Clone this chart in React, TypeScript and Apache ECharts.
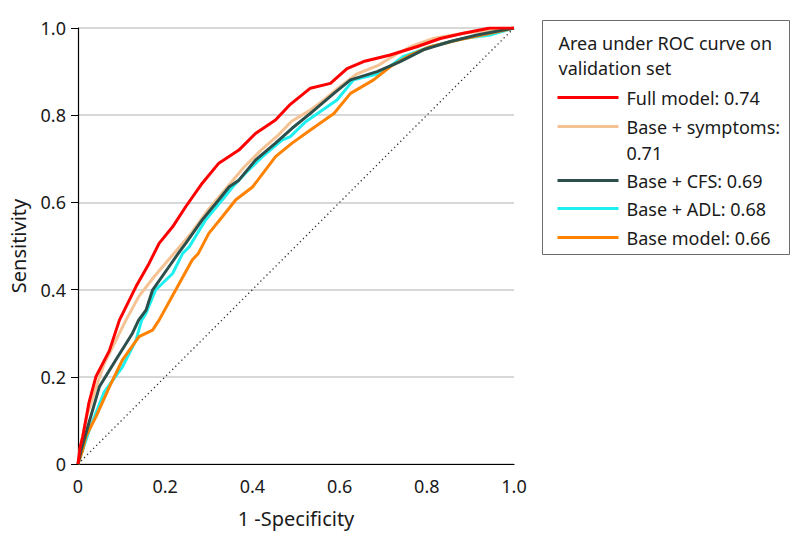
import React, { useEffect, useRef } from "react";
import * as echarts from "echarts";

// ROC curves (x = 1 - specificity, y = sensitivity)
const fprFull = [0, 0.005, 0.011, 0.025, 0.041, 0.072, 0.095, 0.133, 0.163, 0.186, 0.217, 0.247, 0.285, 0.323, 0.369, 0.407, 0.453, 0.487, 0.533, 0.579, 0.617, 0.655, 0.716, 0.777, 0.831, 0.884, 0.945, 1];
const tprFull = [0, 0.04, 0.063, 0.14, 0.2, 0.26, 0.33, 0.407, 0.46, 0.506, 0.544, 0.59, 0.644, 0.69, 0.72, 0.758, 0.789, 0.825, 0.862, 0.873, 0.907, 0.923, 0.938, 0.957, 0.976, 0.988, 1.0, 1];

const fprSymptoms = [0, 0.006, 0.02, 0.042, 0.06, 0.08, 0.11, 0.14, 0.175, 0.22, 0.26, 0.3, 0.343, 0.38, 0.42, 0.46, 0.49, 0.53, 0.564, 0.6, 0.64, 0.69, 0.73, 0.77, 0.815, 0.884, 0.945, 1];
const tprSymptoms = [0, 0.04, 0.11, 0.177, 0.23, 0.27, 0.33, 0.385, 0.43, 0.483, 0.53, 0.585, 0.636, 0.68, 0.72, 0.755, 0.786, 0.81, 0.835, 0.865, 0.895, 0.915, 0.94, 0.96, 0.976, 0.988, 0.995, 1];

const fprCFS = [0, 0.008, 0.018, 0.049, 0.087, 0.125, 0.139, 0.156, 0.171, 0.209, 0.23, 0.247, 0.285, 0.323, 0.347, 0.369, 0.407, 0.453, 0.491, 0.533, 0.587, 0.625, 0.686, 0.739, 0.792, 0.854, 0.915, 1];
const tprCFS = [0, 0.035, 0.07, 0.177, 0.239, 0.3, 0.33, 0.353, 0.399, 0.453, 0.483, 0.506, 0.56, 0.606, 0.636, 0.651, 0.697, 0.736, 0.77, 0.804, 0.85, 0.881, 0.9, 0.923, 0.95, 0.969, 0.984, 1];

const fprADL = [0, 0.01, 0.026, 0.06, 0.102, 0.133, 0.146, 0.156, 0.178, 0.217, 0.24, 0.255, 0.293, 0.331, 0.355, 0.384, 0.423, 0.468, 0.487, 0.522, 0.594, 0.632, 0.693, 0.747, 0.808, 0.884, 0.945, 1];
const tprADL = [0, 0.03, 0.078, 0.165, 0.223, 0.284, 0.33, 0.346, 0.399, 0.437, 0.483, 0.498, 0.56, 0.606, 0.636, 0.667, 0.705, 0.743, 0.751, 0.785, 0.835, 0.881, 0.896, 0.935, 0.957, 0.976, 0.984, 1];

const fprBase = [0, 0.01, 0.018, 0.041, 0.072, 0.102, 0.14, 0.171, 0.186, 0.224, 0.262, 0.276, 0.3, 0.331, 0.362, 0.401, 0.453, 0.491, 0.533, 0.587, 0.625, 0.678, 0.716, 0.762, 0.808, 0.869, 0.945, 1];
const tprBase = [0, 0.03, 0.063, 0.108, 0.177, 0.239, 0.292, 0.307, 0.33, 0.399, 0.468, 0.483, 0.529, 0.567, 0.606, 0.636, 0.705, 0.736, 0.766, 0.804, 0.85, 0.881, 0.911, 0.938, 0.957, 0.972, 0.988, 1];

const diagonalX = [0, 1];
const diagonalY = [0, 1];

// legend order
const seriesNames = ["Full model: 0.74", "Base + symptoms: 0.71", "Base + CFS: 0.69", "Base + ADL: 0.68", "Base model: 0.66"];
const legendLabels = ["Full model: 0.74", "Base + symptoms:\n0.71", "Base + CFS: 0.69", "Base + ADL: 0.68", "Base model: 0.66"];
const seriesColors = ["#ff0000", "#f5c294", "#2d4f4b", "#1ef0f0", "#ff8200"];
const seriesX = [fprFull, fprSymptoms, fprCFS, fprADL, fprBase];
const seriesY = [tprFull, tprSymptoms, tprCFS, tprADL, tprBase];
// drawing order (back to front), as indices into the legend order
const drawOrder = [1, 3, 4, 2, 0];

const legendTitle = "Area under ROC curve on\nvalidation set";
const xAxisTitle = "1 -Specificity";
const yAxisTitle = "Sensitivity";

const FONT = '"Noto Sans", "DejaVu Sans", sans-serif';
const TEXT = "#1a1a1a";

function zip(xs: number[], ys: number[]) {
  return xs.map((x, i) => [x, ys[i]]);
}

function tickFmt(v: number) {
  return v === 0 ? "0" : v.toFixed(1);
}

export default function App() {
  const ref = useRef<HTMLDivElement>(null);

  useEffect(() => {
    document.body.style.margin = "0";
    if (!ref.current) return;
    const chart = echarts.init(ref.current, undefined, { renderer: "svg" });

    const itemCenters = [77, 106, 160, 188, 217];
    const legendChildren: any[] = [
      {
        type: "rect",
        shape: { x: 0, y: 0, width: 247, height: 234 },
        style: { fill: "#fff", stroke: "#6b6b6b", lineWidth: 1 },
      },
      {
        type: "text",
        x: 16,
        y: 10,
        style: { text: legendTitle, font: `18px ${FONT}`, fill: TEXT, lineHeight: 25, verticalAlign: "top" },
      },
    ];
    legendLabels.forEach((label, i) => {
      const c = itemCenters[i];
      legendChildren.push({
        type: "line",
        shape: { x1: 15, y1: c, x2: 76, y2: c },
        style: { stroke: seriesColors[i], lineWidth: 3 },
      });
      legendChildren.push({
        type: "text",
        x: 84,
        y: c - 13,
        style: { text: label, font: `18px ${FONT}`, fill: TEXT, lineHeight: 26, verticalAlign: "top" },
      });
    });

    const series: any[] = [
      {
        type: "line",
        name: "diagonal",
        data: zip(diagonalX, diagonalY),
        showSymbol: false,
        silent: true,
        lineStyle: { color: "#333", width: 1.3, type: [1.3, 3] },
        z: 1,
      },
    ];
    drawOrder.forEach((idx, k) => {
      series.push({
        type: "line",
        name: seriesNames[idx],
        data: zip(seriesX[idx], seriesY[idx]),
        showSymbol: false,
        lineStyle: { color: seriesColors[idx], width: 3 },
        z: 2 + k,
      });
    });

    chart.setOption({
      animation: false,
      backgroundColor: "#fff",
      textStyle: { fontFamily: FONT },
      grid: { left: 77, right: 280, top: 28, bottom: 85, containLabel: false },
      xAxis: {
        type: "value",
        min: 0,
        max: 1,
        interval: 0.2,
        name: xAxisTitle,
        nameLocation: "middle",
        nameGap: 44,
        nameTextStyle: { fontSize: 20, color: TEXT, fontFamily: FONT },
        axisLine: { show: true, onZero: false, lineStyle: { color: "#000", width: 1.2 } },
        axisTick: { show: false },
        axisLabel: { fontSize: 18, color: TEXT, margin: 13, formatter: tickFmt, fontFamily: FONT },
        splitLine: { show: false },
      },
      yAxis: {
        type: "value",
        min: 0,
        max: 1,
        interval: 0.2,
        name: yAxisTitle,
        nameLocation: "middle",
        nameGap: 50,
        nameTextStyle: { fontSize: 20, color: TEXT, fontFamily: FONT },
        axisLine: { show: true, onZero: false, lineStyle: { color: "#000", width: 1.2 } },
        axisTick: { show: true, length: 7, lineStyle: { color: "#000", width: 1 } },
        axisLabel: { fontSize: 18, color: TEXT, margin: 12, formatter: tickFmt, fontFamily: FONT },
        splitLine: { show: true, lineStyle: { color: "#d8d8d8", width: 2 } },
      },
      series,
      graphic: [
        {
          type: "group",
          left: 542,
          top: 20,
          children: legendChildren,
        },
      ],
    });

    return () => chart.dispose();
  }, []);

  return <div ref={ref} style={{ width: 794, height: 549 }} />;
}
